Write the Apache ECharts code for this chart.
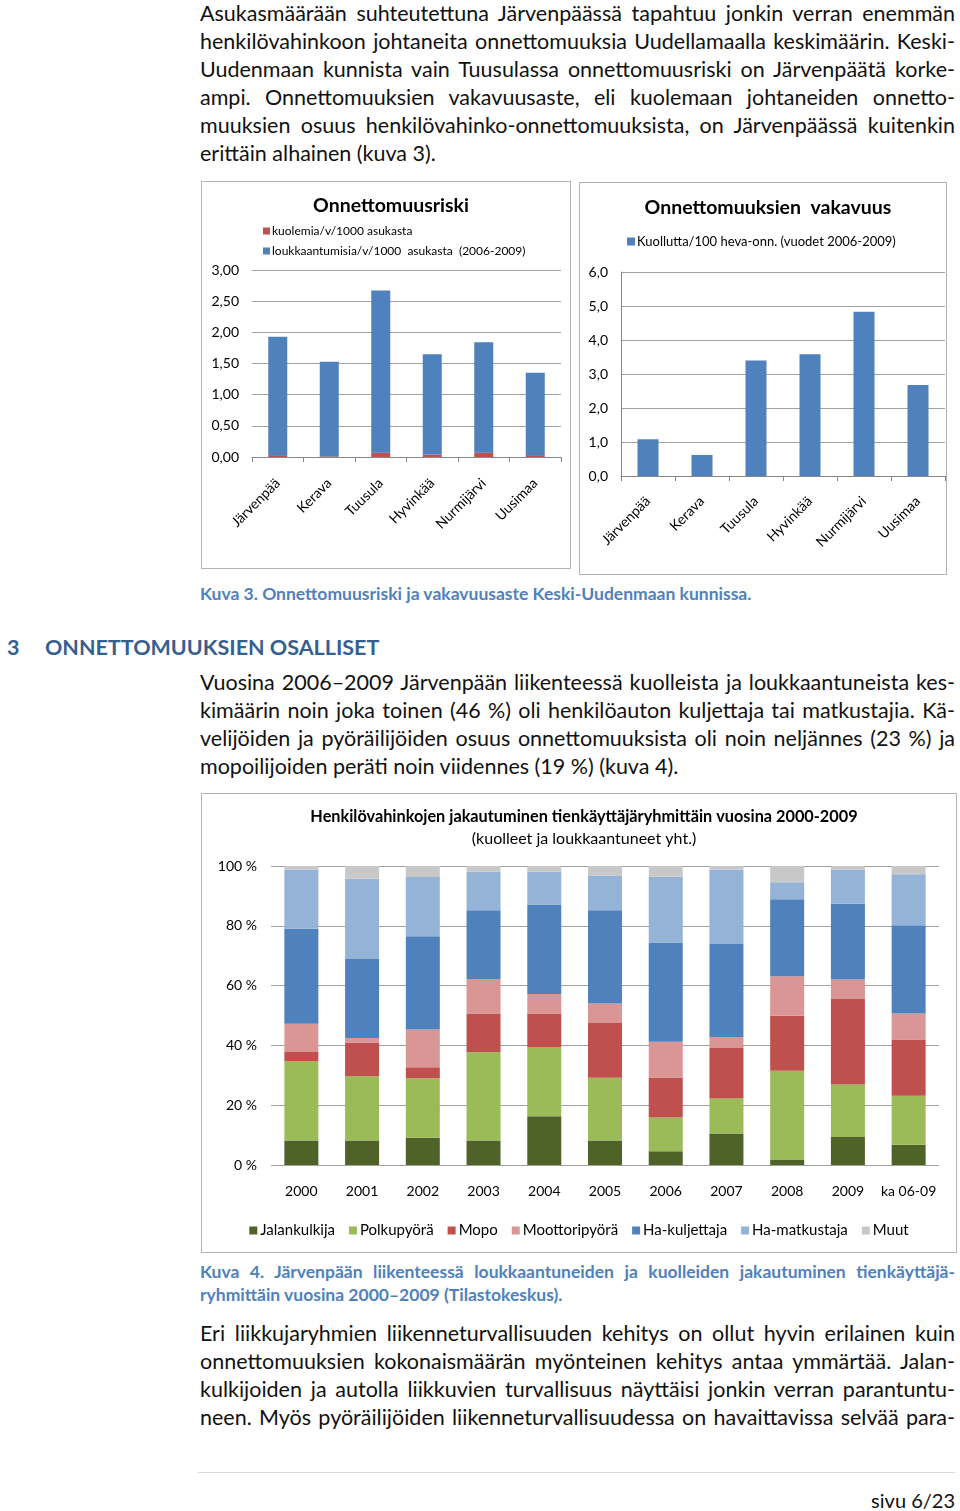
<!DOCTYPE html>
<html><head><meta charset="utf-8">
<script src="https://cdn.jsdelivr.net/npm/echarts@6/dist/echarts.min.js"></script>
<style>
html,body{margin:0;padding:0;background:#fff;}
body{width:960px;height:1511px;position:relative;overflow:hidden;font-family:Lato,"Open Sans",sans-serif;color:#111;}
.ln{position:absolute;left:200px;width:755px;height:28px;line-height:28px;font-size:21.5px;white-space:nowrap;text-align:justify;text-align-last:justify;}
.ln.last{text-align:left;text-align-last:left;}
.cap{position:absolute;left:200px;width:755px;line-height:23px;height:23px;font-size:17.5px;font-weight:bold;color:#4F81BD;white-space:nowrap;text-align:justify;text-align-last:justify;}
.cap.last{text-align:left;text-align-last:left;}
.box{position:absolute;box-sizing:border-box;border:1.5px solid #b4b4b4;}
.h3{position:absolute;top:633px;height:28px;line-height:28px;font-size:21.5px;font-weight:bold;color:#365F91;}
</style></head>
<body>
<div class="ln" style="top:-1px">Asukasmäärään suhteutettuna Järvenpäässä tapahtuu jonkin verran enemmän</div>
<div class="ln" style="top:27px">henkilövahinkoon johtaneita onnettomuuksia Uudellamaalla keskimäärin. Keski-</div>
<div class="ln" style="top:55px">Uudenmaan kunnista vain Tuusulassa onnettomuusriski on Järvenpäätä korke-</div>
<div class="ln" style="top:83px">ampi. Onnettomuuksien vakavuusaste, eli kuolemaan johtaneiden onnetto-</div>
<div class="ln" style="top:111px">muuksien osuus henkilövahinko-onnettomuuksista, on Järvenpäässä kuitenkin</div>
<div class="ln last" style="top:139px">erittäin alhainen (kuva 3).</div>

<div class="box" id="c1" style="left:201px;top:181px;width:370px;height:388px;"></div>
<div class="box" id="c2" style="left:579px;top:182px;width:368px;height:393px;"></div>

<div class="cap last" style="top:582px;">Kuva 3. Onnettomuusriski ja vakavuusaste Keski-Uudenmaan kunnissa.</div>

<div class="h3" style="left:7px;">3</div>
<div class="h3" style="left:45px;">ONNETTOMUUKSIEN OSALLISET</div>

<div class="ln" style="top:668px">Vuosina 2006–2009 Järvenpään liikenteessä kuolleista ja loukkaantuneista kes-</div>
<div class="ln" style="top:696px">kimäärin noin joka toinen (46 %) oli henkilöauton kuljettaja tai matkustajia. Kä-</div>
<div class="ln" style="top:724px">velijöiden ja pyöräilijöiden osuus onnettomuuksista oli noin neljännes (23 %) ja</div>
<div class="ln last" style="top:752px">mopoilijoiden peräti noin viidennes (19 %) (kuva 4).</div>

<div class="box" id="c3" style="left:201px;top:793px;width:756px;height:460px;"></div>

<div class="cap" style="top:1260px">Kuva 4. Järvenpään liikenteessä loukkaantuneiden ja kuolleiden jakautuminen tienkäyttäjä-</div>
<div class="cap last" style="top:1283px">ryhmittäin vuosina 2000–2009 (Tilastokeskus).</div>

<div class="ln" style="top:1319px">Eri liikkujaryhmien liikenneturvallisuuden kehitys on ollut hyvin erilainen kuin</div>
<div class="ln" style="top:1347px">onnettomuuksien kokonaismäärän myönteinen kehitys antaa ymmärtää. Jalan-</div>
<div class="ln" style="top:1375px">kulkijoiden ja autolla liikkuvien turvallisuus näyttäisi jonkin verran parantuntu-</div>
<div class="ln" style="top:1403px">neen. Myös pyöräilijöiden liikenneturvallisuudessa on havaittavissa selvää para-</div>

<div style="position:absolute;left:198px;top:1472px;width:757px;height:1px;background:#d9d9d9;"></div>
<div style="position:absolute;right:5px;top:1486px;font-size:20px;line-height:28px;">sivu 6/23</div>

<script>
// fit over-long justified lines
document.querySelectorAll('.ln,.cap').forEach(el=>{
  let fs = parseFloat(getComputedStyle(el).fontSize);
  let guard = 0;
  while (el.scrollWidth > el.clientWidth + 0.5 && guard < 40) {
    fs -= 0.1; el.style.fontSize = fs + 'px'; guard++;
  }
});

// ---- Data ----
const municipalities = ['Järvenpää','Kerava','Tuusula','Hyvinkää','Nurmijärvi','Uusimaa'];
const deathsPer1000 = [0.03, 0.01, 0.07, 0.04, 0.07, 0.03];
const injuriesPer1000 = [1.90, 1.52, 2.60, 1.61, 1.77, 1.32];
const fatalPer100 = [1.08, 0.62, 3.40, 3.58, 4.83, 2.68];

const years = ['2000','2001','2002','2003','2004','2005','2006','2007','2008','2009','ka 06-09'];
const jalankulkija   = [8.2, 8.2, 9.1, 8.2, 16.3, 8.2, 4.6, 10.5, 1.8, 9.4, 6.8];
const polkupyora     = [26.6, 21.5, 19.9, 29.5, 23.2, 21.0, 11.3, 11.7, 29.7, 17.5, 16.4];
const mopo           = [3.0, 11.3, 3.7, 13.0, 11.2, 18.3, 13.4, 16.9, 18.4, 28.6, 18.8];
const moottoripyora  = [9.4, 1.5, 12.6, 11.5, 6.5, 6.5, 11.9, 3.7, 13.2, 6.5, 8.7];
const haKuljettaja   = [31.8, 26.4, 31.2, 23.0, 29.9, 31.2, 33.2, 31.1, 25.8, 25.4, 29.5];
const haMatkustaja   = [19.8, 26.8, 19.8, 13.0, 11.1, 11.6, 22.0, 24.9, 5.7, 11.4, 17.0];
const muut           = [1.2, 4.3, 3.7, 1.8, 1.8, 3.2, 3.6, 1.2, 5.4, 1.2, 2.8];

const FONT = 'Lato, "Open Sans", sans-serif';
const GRID = '#a0a0a0';

// ---- Chart 1 ----
const c1 = echarts.init(document.getElementById('c1'), null, {renderer:'canvas'});
c1.setOption({
  animation:false,
  textStyle:{fontFamily:FONT},
  title:{text:'Onnettomuusriski',left:184,top:9,textAlign:'center',
    textStyle:{fontSize:19.5,fontWeight:'bold',color:'#000',fontFamily:FONT}},
  legend:{orient:'vertical',left:56,top:38,itemWidth:7,itemHeight:7,itemGap:8,icon:'rect',
    textStyle:{fontSize:12,color:'#000',fontFamily:FONT,padding:[0,0,0,-3]},
    data:['kuolemia/v/1000 asukasta','loukkaantumisia/v/1000  asukasta  (2006-2009)']},
  grid:{left:50,right:9,top:88,bottom:111,containLabel:false},
  xAxis:{type:'category',data:municipalities,
    axisLine:{lineStyle:{color:'#888'}},
    axisTick:{show:true,length:5,lineStyle:{color:'#888'}},
    axisLabel:{rotate:45,fontSize:14,color:'#000',margin:24,interval:0,fontFamily:FONT}},
  yAxis:{type:'value',min:0,max:3,interval:0.5,
    axisLine:{show:false},axisTick:{show:false},
    axisLabel:{fontSize:14,color:'#000',margin:13,fontFamily:FONT,
      formatter:v=>v.toFixed(2).replace('.',',')},
    splitLine:{lineStyle:{color:GRID}}},
  series:[
    {name:'kuolemia/v/1000 asukasta',type:'bar',stack:'a',data:deathsPer1000,barWidth:19,
      itemStyle:{color:'#C0504D'}},
    {name:'loukkaantumisia/v/1000  asukasta  (2006-2009)',type:'bar',stack:'a',data:injuriesPer1000,barWidth:19,
      itemStyle:{color:'#4F81BD'}}
  ]
});

// ---- Chart 2 ----
const c2 = echarts.init(document.getElementById('c2'), null, {renderer:'canvas'});
c2.setOption({
  animation:false,
  textStyle:{fontFamily:FONT},
  title:{text:'Onnettomuuksien  vakavuus',left:183,top:10,textAlign:'center',
    textStyle:{fontSize:19.5,fontWeight:'bold',color:'#000',fontFamily:FONT}},
  legend:{left:42,top:47,itemWidth:8,itemHeight:8,icon:'rect',
    textStyle:{fontSize:13,color:'#000',fontFamily:FONT,padding:[0,0,0,-3]},
    data:['Kuollutta/100 heva-onn. (vuodet 2006-2009)']},
  grid:{left:41,right:1,top:89,bottom:98,containLabel:false},
  xAxis:{type:'category',data:municipalities,
    axisLine:{lineStyle:{color:'#888'}},
    axisTick:{show:true,length:5,lineStyle:{color:'#888'}},
    axisLabel:{rotate:45,fontSize:14,color:'#000',margin:23,interval:0,fontFamily:FONT}},
  yAxis:{type:'value',min:0,max:6,interval:1,
    axisLine:{show:true,lineStyle:{color:'#888'}},axisTick:{show:false},
    axisLabel:{fontSize:14,color:'#000',margin:13,fontFamily:FONT,
      formatter:v=>v.toFixed(1).replace('.',',')},
    splitLine:{lineStyle:{color:GRID}}},
  series:[
    {name:'Kuollutta/100 heva-onn. (vuodet 2006-2009)',type:'bar',data:fatalPer100,barWidth:21,
      itemStyle:{color:'#4F81BD'}}
  ]
});

// ---- Chart 3 ----
const c3 = echarts.init(document.getElementById('c3'), null, {renderer:'canvas'});
const groups = [
  ['Jalankulkija', jalankulkija, '#4F6228'],
  ['Polkupyörä', polkupyora, '#9BBB59'],
  ['Mopo', mopo, '#C0504D'],
  ['Moottoripyörä', moottoripyora, '#D99694'],
  ['Ha-kuljettaja', haKuljettaja, '#4F81BD'],
  ['Ha-matkustaja', haMatkustaja, '#95B3D7'],
  ['Muut', muut, '#C8C8C8']
];
c3.setOption({
  animation:false,
  textStyle:{fontFamily:FONT},
  title:[
    {text:'Henkilövahinkojen jakautuminen tienkäyttäjäryhmittäin vuosina 2000-2009',left:377,top:10,textAlign:'center',
      textStyle:{fontSize:16.3,fontWeight:'bold',color:'#000',fontFamily:FONT}},
    {text:'(kuolleet ja loukkaantuneet yht.)',left:377,top:32,textAlign:'center',
      textStyle:{fontSize:16,fontWeight:'normal',color:'#000',fontFamily:FONT}}
  ],
  legend:{left:'center',top:424,itemWidth:8,itemHeight:8,itemGap:14,icon:'rect',
    textStyle:{fontSize:15,color:'#000',fontFamily:FONT,padding:[0,0,0,-2]},
    data:groups.map(g=>g[0])},
  grid:{left:69,right:17,top:72,bottom:87,containLabel:false},
  xAxis:{type:'category',data:years,
    axisLine:{show:false},axisTick:{show:false},
    axisLabel:{fontSize:14,color:'#000',margin:19,interval:0,fontFamily:FONT}},
  yAxis:{type:'value',min:0,max:100,interval:20,
    axisLine:{show:false},axisTick:{show:false},
    axisLabel:{fontSize:14,color:'#000',margin:14,fontFamily:FONT,formatter:'{value} %'},
    splitLine:{lineStyle:{color:GRID}}},
  series:groups.map(g=>({name:g[0],type:'bar',stack:'p',data:g[1],barWidth:34,
    itemStyle:{color:g[2]}}))
});
</script>
</body></html>
